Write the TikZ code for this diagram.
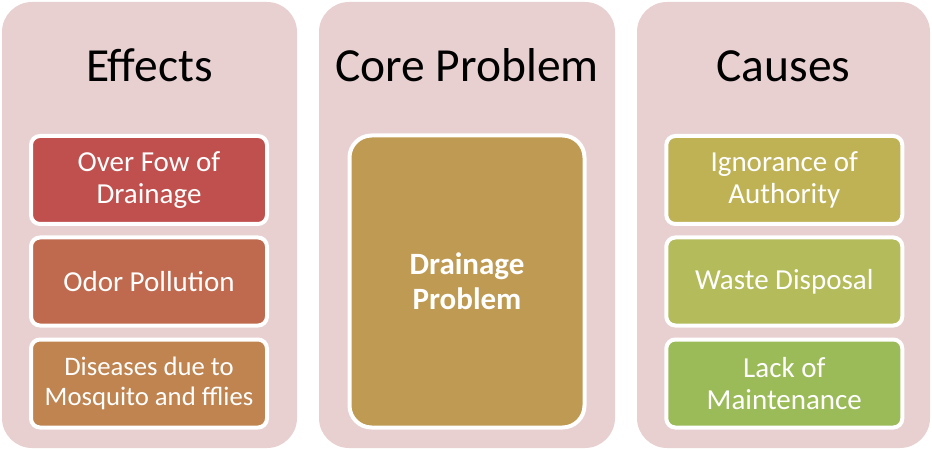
\documentclass[tikz,border=0pt]{standalone}
\usepackage{fontspec}
\setmainfont{Carlito}
\definecolor{panelc}{HTML}{E8D0D1}
\definecolor{ea}{HTML}{C0504D}
\definecolor{eb}{HTML}{BF6A4E}
\definecolor{ec}{HTML}{BF8450}
\definecolor{core}{HTML}{BE9A52}
\definecolor{ca}{HTML}{BEB255}
\definecolor{cb}{HTML}{B3BB5A}
\definecolor{cc}{HTML}{9BBB59}
\begin{document}
\begin{tikzpicture}[x=1pt,y=-1pt,
 panel/.style={fill=panelc, draw=none, rounded corners=30pt, minimum height=446pt, inner sep=0pt},
 title/.style={font=\fontsize{47.5}{52}\selectfont, text=black, anchor=base, inner sep=0pt},
 item/.style={draw=white, line width=4pt, rounded corners=9pt, minimum width=236pt, minimum height=88pt, text=white, align=center, font=\fontsize{29}{32}\selectfont, inner sep=0pt},
 smallitem/.style={item, font=\fontsize{26.7}{30}\selectfont},
 corebox/.style={draw=white, line width=4pt, rounded corners=22pt, minimum width=235pt, minimum height=292pt, text=white, align=center, font=\bfseries\fontsize{31}{35}\selectfont, inner sep=0pt}
 ]
\useasboundingbox (0,0) rectangle (932,449);
\node[panel, minimum width=295pt] (pE) at (149.5,225) {};
\node[panel, minimum width=296pt] (pC) at (467,225) {};
\node[panel, minimum width=293pt] (pK) at (783.5,225) {};

\node[title] (tE) at (149.5,82) {Effects};
\node[title] (tC) at (467,82) {Core Problem};
\node[title] (tK) at (783.5,82) {Causes};

\node[item, fill=ea] (e1) at (149,180) {Over Fow of\\Drainage};
\node[item, fill=eb] (e2) at (149,281.5) {Odor Pollution};
\node[smallitem, fill=ec] (e3) at (149,383.5) {Diseases due to\\Mosquito and fflies};

\node[corebox, fill=core] (core) at (467,281.5) {Drainage\\Problem};

\node[item, fill=ca] (c1) at (784.3,180) {Ignorance of\\Authority};
\node[item, fill=cb] (c2) at (784.3,281.5) {Waste Disposal};
\node[item, fill=cc] (c3) at (784.3,383.5) {Lack of\\Maintenance};
\end{tikzpicture}
\end{document}
